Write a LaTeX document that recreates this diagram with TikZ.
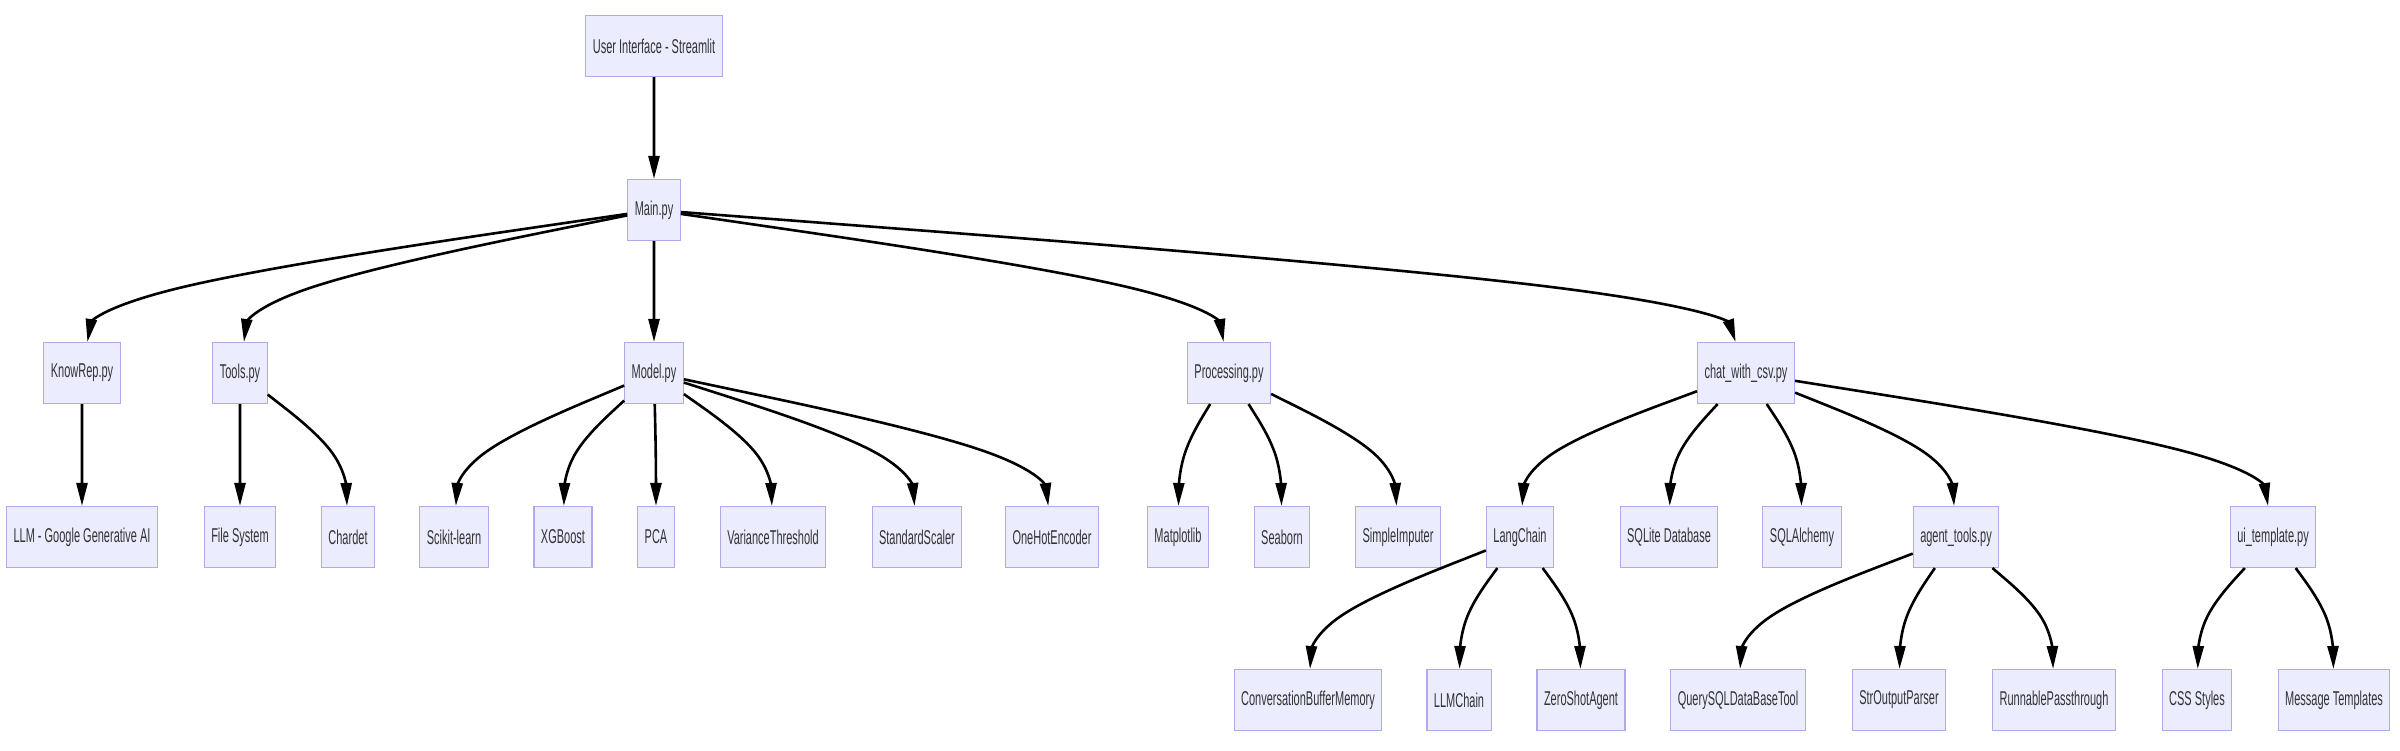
\documentclass[tikz,border=0pt]{standalone}
\usepackage{fontspec}
\usepackage{graphicx}
\setmainfont{Liberation Sans}
\usetikzlibrary{calc,arrows.meta}
\definecolor{boxfill}{HTML}{ECECFF}
\definecolor{boxline}{RGB}{178,170,232}
\definecolor{textgray}{HTML}{333333}
\newcommand\sq[1]{\scalebox{0.55}[1]{#1}}
\tikzset{
  box/.style={draw=boxline, fill=boxfill, line width=1.1pt, minimum height=61pt,
    inner xsep=7pt, inner ysep=0pt, text=textgray, font=\fontsize{20}{24}\selectfont},
  edge/.style={draw=black, line width=2.6pt, -{Triangle[length=23pt,width=11pt]}}
}
\newcommand\medge[2]{%
  \path let \p1=(#1.center), \p2=(#2.center) in
    coordinate (M) at ({\x2+0.025*(\x1-\x2)}, {0.5*(\y1+\y2)});
  \path (#1) -- (M) coordinate[pos=0] (P0);
  \path (M) -- (#2) coordinate[pos=1] (P2);
  \draw[edge] (P0) -- ($(P0)!1/6!(M)$)
    .. controls ($(P0)!1/3!(M)$) and ($(P0)!2/3!(M)$)
    .. ($0.1666667*(P0)+0.6666667*(M)+0.1666667*(P2)$)
    .. controls ($(M)!1/3!(P2)$) and ($(M)!2/3!(P2)$) .. (P2);
}
\begin{document}
\begin{tikzpicture}[x=1pt,y=-1pt]
\useasboundingbox (0,0) rectangle (2400,750);
% row 0,1
\node[box] (ui) at (654,46) {\sq{User Interface - Streamlit}};
\node[box] (main) at (654,210) {\sq{Main.py}};
% row 2
\node[box] (kr) at (82,373) {\sq{KnowRep.py}};
\node[box] (tl) at (240,373) {\sq{Tools.py}};
\node[box] (md) at (654,373) {\sq{Model.py}};
\node[box] (pr) at (1229,373) {\sq{Processing.py}};
\node[box] (cc) at (1746,373) {\sq{chat\_with\_csv.py}};
% row 3
\node[box] (llm) at (82,537) {\sq{LLM - Google Generative AI}};
\node[box] (fs) at (240,537) {\sq{File System}};
\node[box] (cd) at (348,537) {\sq{Chardet}};
\node[box] (sk) at (454,537) {\sq{Scikit-learn}};
\node[box] (xg) at (563,537) {\sq{XGBoost}};
\node[box] (pca) at (656,537) {\sq{PCA}};
\node[box] (vt) at (773,537) {\sq{VarianceThreshold}};
\node[box] (ss) at (917,537) {\sq{StandardScaler}};
\node[box] (oh) at (1052,537) {\sq{OneHotEncoder}};
\node[box] (mp) at (1178,537) {\sq{Matplotlib}};
\node[box] (sb) at (1282,537) {\sq{Seaborn}};
\node[box] (si) at (1398,537) {\sq{SimpleImputer}};
\node[box] (lc) at (1520,537) {\sq{LangChain}};
\node[box] (sq) at (1669,537) {\sq{SQLite Database}};
\node[box] (sa) at (1802,537) {\sq{SQLAlchemy}};
\node[box] (at) at (1956,537) {\sq{agent\_tools.py}};
\node[box] (ut) at (2273,537) {\sq{ui\_template.py}};
% row 4
\node[box] (cb) at (1308,700) {\sq{ConversationBufferMemory}};
\node[box] (lm) at (1459,700) {\sq{LLMChain}};
\node[box] (zs) at (1581,700) {\sq{ZeroShotAgent}};
\node[box] (qs) at (1738,700) {\sq{QuerySQLDataBaseTool}};
\node[box] (so) at (1899,700) {\sq{StrOutputParser}};
\node[box] (rp) at (2054,700) {\sq{RunnablePassthrough}};
\node[box] (cs) at (2197,700) {\sq{CSS Styles}};
\node[box] (mt) at (2334,700) {\sq{Message Templates}};
% edges
\medge{ui}{main}
\medge{main}{kr}
\medge{main}{tl}
\medge{main}{md}
\medge{main}{pr}
\medge{main}{cc}
\medge{kr}{llm}
\medge{tl}{fs}
\medge{tl}{cd}
\medge{md}{sk}
\medge{md}{xg}
\medge{md}{pca}
\medge{md}{vt}
\medge{md}{ss}
\medge{md}{oh}
\medge{pr}{mp}
\medge{pr}{sb}
\medge{pr}{si}
\medge{cc}{lc}
\medge{cc}{sq}
\medge{cc}{sa}
\medge{cc}{at}
\medge{cc}{ut}
\medge{lc}{cb}
\medge{lc}{lm}
\medge{lc}{zs}
\medge{at}{qs}
\medge{at}{so}
\medge{at}{rp}
\medge{ut}{cs}
\medge{ut}{mt}
\end{tikzpicture}
\end{document}
